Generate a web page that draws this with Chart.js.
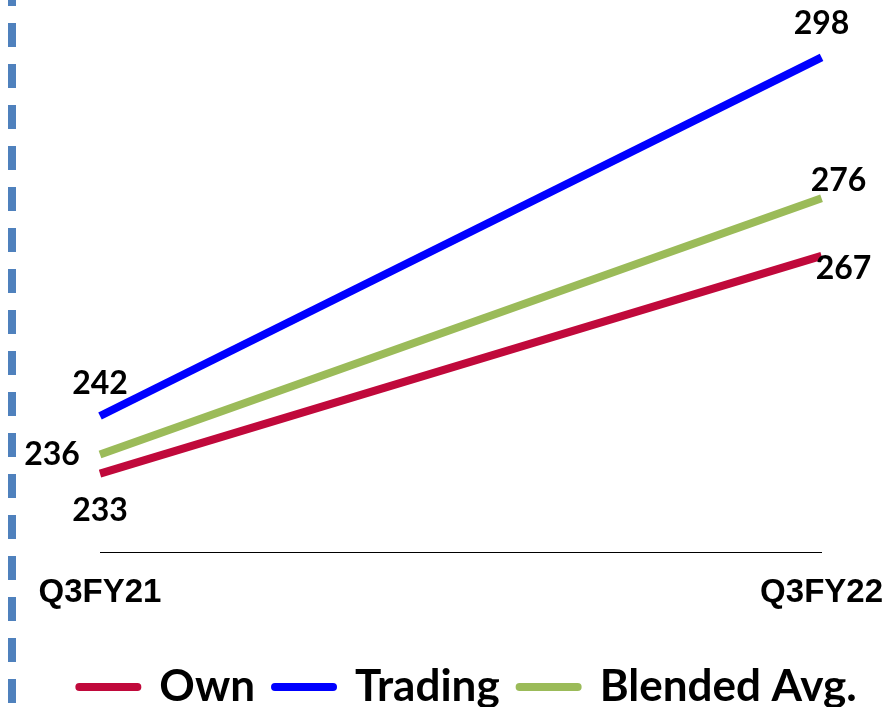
<!DOCTYPE html>
<html>
<head>
<meta charset="utf-8">
<script src="https://cdn.jsdelivr.net/npm/chart.js@4/dist/chart.umd.min.js"></script>
<style>
    body { margin: 0; background: #fff; }
    #wrap { width: 896px; height: 707px; position: relative; }
</style>
</head>
<body>
<div id="wrap"><canvas id="chart"></canvas></div>
<script>
const periods = ['Q3FY21', 'Q3FY22']
const ownValues = [233, 267]
const tradingValues = [242, 298]
const blendedValues = [236, 276]

// dashed separator on the left edge
const leftDash = {
    id: 'leftDash',
    beforeDraw(chart) {
        const ctx = chart.ctx
        ctx.save()
        ctx.strokeStyle = '#4F81BD'
        ctx.lineWidth = 8
        ctx.setLineDash([24, 17])
        ctx.lineDashOffset = 18
        ctx.beginPath()
        ctx.moveTo(12, 0)
        ctx.lineTo(12, chart.height)
        ctx.stroke()
        ctx.restore()
    }
}

// value labels next to the line ends
const valueLabels = {
    id: 'valueLabels',
    afterDatasetsDraw(chart) {
        const ctx = chart.ctx
        ctx.save()
        ctx.font = 'bold 32px Lato'
        ctx.fillStyle = '#000'
        ctx.textAlign = 'center'
        ctx.textBaseline = 'middle'
        chart.data.datasets.forEach((ds, i) => {
            const meta = chart.getDatasetMeta(i)
            meta.data.forEach((pt, j) => {
                const off = ds.labelOffsets[j]
                ctx.fillText(ds.data[j], pt.x + off[0], pt.y + off[1])
            })
        })
        ctx.restore()
    }
}

const chart = new Chart(document.getElementById('chart'), {
    type: 'line',
    data: {
        labels: periods,
        datasets: [{
            label: 'Own',
            data: ownValues,
            borderColor: '#C0093B',
            backgroundColor: '#C0093B',
            borderWidth: 8,
            pointRadius: 0,
            labelOffsets: [[0, 37], [22, 13]]
        }, {
            label: 'Trading',
            data: tradingValues,
            borderColor: '#0000FF',
            backgroundColor: '#0000FF',
            borderWidth: 8,
            pointRadius: 0,
            labelOffsets: [[0, -32], [0, -34]]
        }, {
            label: 'Blended Avg.',
            data: blendedValues,
            borderColor: '#9BBB59',
            backgroundColor: '#9BBB59',
            borderWidth: 8,
            pointRadius: 0,
            labelOffsets: [[-48, 0], [17, -18]]
        }]
    },
    options: {
        responsive: true,
        maintainAspectRatio: false,
        animation: false,
        layout: { padding: { left: 40, right: 0, top: 8, bottom: -12 } },
        scales: {
            x: {
                grid: { display: false },
                border: { display: true, color: '#000', width: 1 },
                ticks: {
                    color: '#000',
                    padding: 13,
                    font: { family: 'Liberation Sans', weight: 'bold', size: 33 }
                },
                afterFit(scale) { scale.height += 19 }
            },
            y: {
                min: 220.7, max: 305.7,
                grid: { display: false },
                border: { display: false },
                ticks: { display: false },
                afterFit(scale) { scale.width = 60 }
            },
            yRight: {
                position: 'right',
                grid: { display: false },
                border: { display: false },
                ticks: { display: false },
                afterFit(scale) { scale.width = 65 }
            }
        },
        plugins: {
            tooltip: { enabled: false },
            legend: {
                position: 'bottom',
                labels: {
                    color: '#000',
                    font: { family: 'Lato', weight: 'bold', size: 44 },
                    usePointStyle: true,
                    pointStyle: 'line',
                    pointStyleWidth: 58,
                    padding: 20,
                    generateLabels(chart) {
                        return chart.data.datasets.map((ds, i) => ({
                            text: ds.label,
                            fillStyle: ds.borderColor,
                            strokeStyle: ds.borderColor,
                            lineWidth: 8,
                            lineCap: 'round',
                            pointStyle: 'line',
                            fontColor: '#000',
                            hidden: false,
                            datasetIndex: i
                        }))
                    }
                }
            }
        }
    },
    plugins: [leftDash, valueLabels]
})
</script>
</body>
</html>
